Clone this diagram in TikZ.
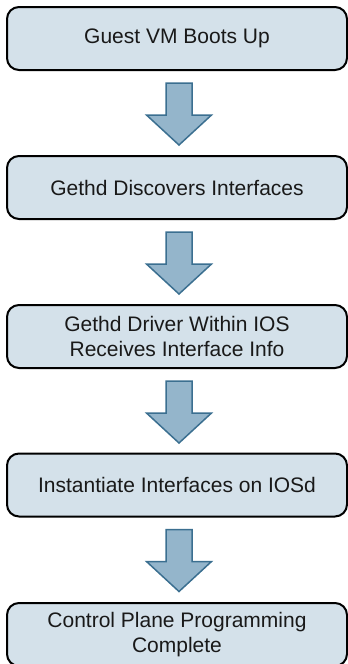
\documentclass[tikz,border=0pt]{standalone}
\usepackage{fontspec}
\setmainfont{Liberation Sans}
\usetikzlibrary{calc}
\definecolor{boxfill}{HTML}{D4E1EA}
\definecolor{arrfill}{HTML}{94B5CB}
\definecolor{arrline}{HTML}{3B6F90}
\tikzset{
  stepbox/.style={draw=black, line width=2pt, fill=boxfill, rounded corners=12pt,
    minimum width=340pt, minimum height=63pt, align=center,
    font=\fontsize{21}{25}\selectfont, text=black!90, inner sep=0pt},
  blockarrow/.style={draw=arrline, fill=arrfill, line width=1.5pt, line join=miter}
}
\newcommand{\downarrowfrom}[1]{%
  \draw[blockarrow] ($(#1.south)+(-11,12)$) -- ($(#1.south)+(15,12)$) -- ($(#1.south)+(15,44)$)
    -- ($(#1.south)+(34.5,44)$) -- ($(#1.south)+(2,74)$) -- ($(#1.south)+(-30.5,44)$)
    -- ($(#1.south)+(-11,44)$) -- cycle;}
\begin{document}
\begin{tikzpicture}[x=1pt,y=-1pt]
\useasboundingbox (0,0) rectangle (348,664);
\node[stepbox] (b1) at (177,38.5) {Guest VM Boots Up};
\node[stepbox] (b2) at (177,187.5) {Gethd Discovers Interfaces};
\node[stepbox] (b3) at (177,336.5) {Gethd Driver Within IOS\\Receives Interface Info};
\node[stepbox] (b4) at (177,485) {Instantiate Interfaces on IOSd};
\node[stepbox] (b5) at (177,634.5) {Control Plane Programming\\Complete};
\downarrowfrom{b1}
\downarrowfrom{b2}
\downarrowfrom{b3}
\downarrowfrom{b4}
\end{tikzpicture}
\end{document}
